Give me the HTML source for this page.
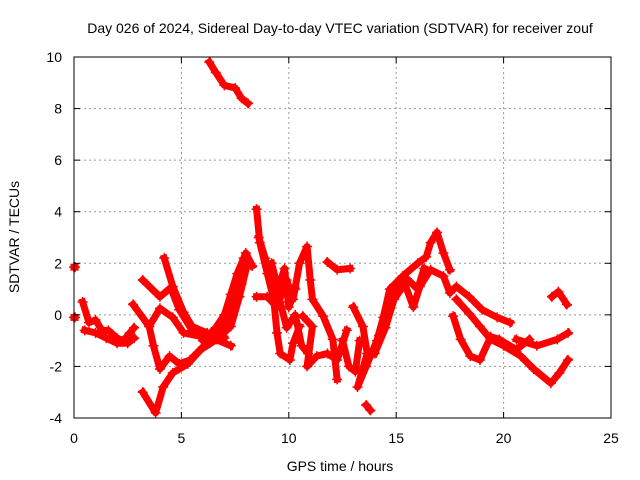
<!DOCTYPE html>
<html><head><meta charset="utf-8"><style>
body{margin:0;background:#fff;}
svg{display:block;font-family:"Liberation Sans",sans-serif;}
</style></head><body>
<svg id="chart" width="640" height="480">
<text x="340" y="33" font-size="14" text-anchor="middle">Day 026 of 2024, Sidereal Day-to-day VTEC variation (SDTVAR) for receiver zouf</text>
<g id="grid"></g>
<g id="marks"></g>
<rect x="74" y="57" width="537" height="361" fill="none" stroke="#000" stroke-width="1"/>
<g id="ticks"></g>
<text x="340" y="471" font-size="14" text-anchor="middle">GPS time / hours</text>
<text transform="translate(19,237) rotate(-90)" font-size="14" text-anchor="middle">SDTVAR / TECUs</text>
</svg>
<script>
const xTicks=[0,5,10,15,20,25];
const yTicks=[-4,-2,0,2,4,6,8,10];
const track1=[[6.3,9.8],[6.6,9.4],[7.0,8.9],[7.5,8.8],[7.8,8.4],[8.1,8.2]];
const track2=[[0.4,0.5],[0.7,-0.3],[1.0,-0.2],[1.3,-0.6],[1.6,-0.6],[2.0,-0.9],[2.3,-1.0],[2.6,-0.7],[2.8,-0.5]];
const track3=[[0.5,-0.6],[1.0,-0.7],[1.5,-0.9],[2.0,-1.1],[2.5,-1.1],[2.8,-0.9]];
const track4=[[2.75,0.4],[3.5,-0.45],[4.0,0.25],[4.6,-0.1],[5.1,-0.7],[6.0,-0.85],[6.8,-0.6],[7.4,0.0],[7.8,1.2],[8.0,2.0]];
const track5=[[3.5,-0.45],[3.7,-1.2],[4.0,-2.1],[4.45,-1.6],[4.9,-1.9],[5.4,-1.75],[6.0,-1.25],[6.8,-0.7],[7.4,0.2],[7.8,1.6],[8.0,2.4],[8.3,1.9]];
const track6=[[3.2,1.35],[4.0,0.7],[4.5,1.05],[4.9,0.2],[5.5,-0.6],[6.3,-0.85],[7.3,-1.2]];
const track7=[[4.2,2.2],[4.6,1.1],[5.1,0.1],[5.5,-0.45],[6.2,-0.7],[7.0,-0.9]];
const track8=[[3.2,-3.0],[3.8,-3.8],[4.15,-2.8],[4.6,-2.25],[5.3,-1.9],[5.9,-1.35],[6.65,-0.95],[7.3,-0.45],[7.7,0.7],[8.05,1.9]];
const track9=[[8.5,4.1],[8.65,2.8],[9.0,1.6],[9.3,0.6],[9.45,-0.7],[9.6,-1.5],[10.05,-1.75],[10.2,-1.1],[10.5,-0.45]];
const track10=[[8.5,0.7],[9.0,0.7],[9.45,0.3],[9.9,1.35],[10.2,0.6],[10.5,2.0],[10.85,2.65],[11.0,1.35],[11.1,0.6],[11.6,-0.05],[12.05,-0.95],[12.25,-2.5]];
const track11=[[10.65,-0.05],[11.1,-0.45],[10.85,-2.0],[11.3,-1.6],[11.8,-1.5],[12.25,-1.75],[12.7,-0.6]];
const track12=[[11.8,2.05],[12.25,1.75],[12.85,1.8]];
const track13=[[13.0,0.3],[13.45,-0.45],[13.65,-1.5],[13.2,-2.8],[13.6,-2.0],[14.1,-1.0],[14.4,-0.1],[14.7,1.0],[15.3,1.5],[16.0,2.0],[16.4,2.25],[16.6,2.8],[16.9,3.2],[17.2,2.4],[17.5,1.75]];
const track14=[[14.0,-1.5],[14.5,-0.5],[14.9,0.6],[15.4,1.2],[15.8,0.3],[16.1,1.1],[16.6,1.75],[17.2,1.5],[17.5,0.85],[17.8,1.1],[18.4,0.7],[19.0,0.2],[19.7,-0.1],[20.3,-0.3]];
const track15=[[17.8,0.6],[18.4,0.05],[18.9,-0.45],[19.4,-0.95],[20.0,-1.2],[20.8,-1.6],[21.4,-2.1],[22.2,-2.65],[22.6,-2.25],[23.0,-1.75]];
const track16=[[17.65,-0.05],[18.0,-0.95],[18.45,-1.6],[18.9,-1.75],[19.4,-0.85],[19.8,-0.95],[20.6,-1.35],[21.2,-0.95]];
const track17=[[20.6,-0.95],[21.55,-1.2],[22.5,-0.95],[23.0,-0.7]];
const track18=[[22.25,0.7],[22.55,0.9],[22.95,0.4]];
const track19=[[13.6,-3.5],[13.8,-3.7]];
const track20=[[0.0,1.85],[0.05,1.85]];
const track21=[[0.0,-0.1],[0.05,-0.1]];
const track22=[[8.6,3.0],[8.9,2.2],[9.2,1.2],[9.6,0.5],[9.9,-0.5],[10.3,0.0],[10.6,-1.2],[10.9,-1.5]];
const track23=[[9.2,2.0],[9.5,1.0],[9.8,1.8],[10.0,0.3],[10.3,1.0]];
const track24=[[6.0,-1.0],[6.6,-0.5],[7.0,0.0],[7.3,0.8],[7.6,1.6],[7.9,2.2]];
const track25=[[14.2,-0.8],[14.6,0.3],[15.0,1.2],[15.5,1.4],[16.0,1.0],[16.3,1.8]];
const track26=[[12.5,-1.0],[12.8,-2.0],[13.1,-2.2],[13.3,-1.0]];
const tracks=[track1,track2,track3,track4,track5,track6,track7,track8,track9,track10,track11,track12,track13,track14,track15,track16,track17,track18,track19,track20,track21,track22,track23,track24,track25,track26];
const X=h=>74+h*537/25, Y=v=>418-(v+4)*361/14;
const NS="http://www.w3.org/2000/svg";
const grid=document.getElementById('grid'),ticks=document.getElementById('ticks'),marks=document.getElementById('marks');
function mk(tag,attrs,parent){const e=document.createElementNS(NS,tag);for(const k in attrs)e.setAttribute(k,attrs[k]);parent.appendChild(e);return e;}
xTicks.forEach(t=>{const x=X(t);
 if(t>0&&t<25){const g=mk('line',{x1:x,x2:x,y1:57,y2:418,stroke:'#999','stroke-dasharray':'2,3'},grid);}
 mk('line',{x1:x,x2:x,y1:418,y2:412,stroke:'#000'},ticks);mk('line',{x1:x,x2:x,y1:57,y2:63,stroke:'#000'},ticks);
 const l=mk('text',{x:x,y:443,'font-size':14,'text-anchor':'middle'},ticks);l.textContent=t;
 
 });
yTicks.forEach(t=>{const y=Y(t);
 if(t>-4&&t<10){const g=mk('line',{x1:74,x2:611,y1:y,y2:y,stroke:'#999','stroke-dasharray':'2,3'},grid);}
 mk('line',{x1:74,x2:80,y1:y,y2:y,stroke:'#000'},ticks);mk('line',{x1:611,x2:605,y1:y,y2:y,stroke:'#000'},ticks);
 const l=mk('text',{x:62,y:y+5,'font-size':14,'text-anchor':'end'},ticks);l.textContent=t;
 
 });
tracks.forEach(tr=>{
 const p=mk('polyline',{points:tr.map(d=>X(d[0])+','+Y(d[1])).join(' '),fill:'none',stroke:'#ff0000','stroke-width':7,'stroke-linejoin':'round','stroke-linecap':'square'},marks);
 
 
 tr.forEach(d=>{const x=X(d[0]),y=Y(d[1]);
  const m=mk('path',{d:`M${x-5},${y}H${x+5}M${x},${y-5}V${y+5}`,stroke:'#ff0000','stroke-width':1.5},marks);
  
  });
});
</script>
</body></html>
